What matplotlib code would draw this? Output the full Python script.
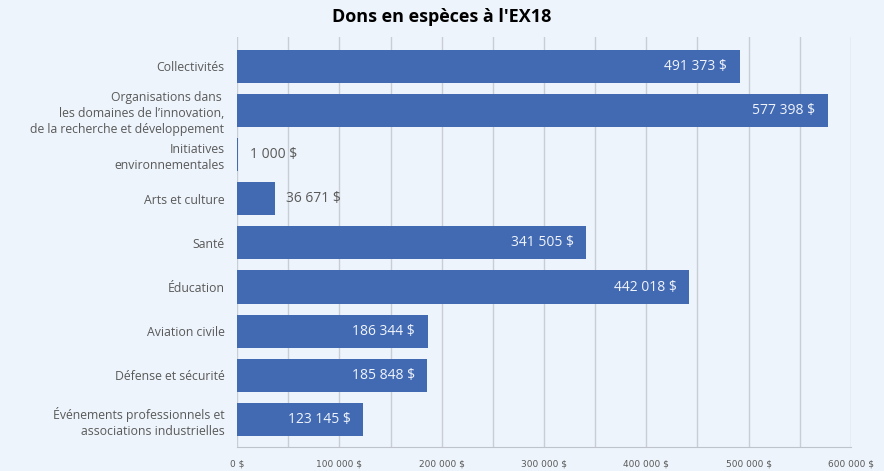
import numpy as np
import matplotlib.pyplot as plt
from matplotlib.ticker import MultipleLocator, FuncFormatter

categories = ['Collectivités',
              'Organisations dans \nles domaines de l\u2019innovation,\nde la recherche et développement',
              'Initiatives\nenvironnementales',
              'Arts et culture',
              'Santé',
              'Éducation',
              'Aviation civile',
              'Défense et sécurité',
              'Événements professionnels et\nassociations industrielles']
values = [491373, 577398, 1000, 36671, 341505, 442018, 186344, 185848, 123145]
title = "Dons en espèces à l'EX18"

bg = '#EDF4FB'
bar_color = '#426AB3'
text_gray = '#595959'


def money(v):
    return '{:,}'.format(int(v)).replace(',', ' ') + ' $'


fig = plt.figure(figsize=(8.84, 4.71), dpi=100, facecolor=bg)
ax = fig.add_axes([237 / 884, 1 - 447 / 471, (851 - 237) / 884, (447 - 37) / 471])
ax.set_facecolor(bg)

y = np.arange(len(categories))
ax.barh(y, values, height=0.75, color=bar_color, zorder=3)

ax.set_xlim(0, 600000)
ax.set_ylim(len(categories) - 0.38, -0.66)

ax.xaxis.set_major_locator(MultipleLocator(100000))
ax.xaxis.set_minor_locator(MultipleLocator(50000))
ax.xaxis.set_major_formatter(FuncFormatter(lambda v, p: money(v)))
ax.grid(axis='x', which='both', color='#C9CED6', linewidth=1.0, zorder=0)
ax.tick_params(axis='x', which='both', length=0, pad=9, labelsize=6.5, labelcolor=text_gray)
for lab in ax.get_xticklabels():
    lab.set_fontfamily('Liberation Sans Narrow')

ax.set_yticks(y)
ax.set_yticklabels(categories, fontsize=8.8, color=text_gray, family='Open Sans', linespacing=1.3)
ax.tick_params(axis='y', length=0, pad=9)

for s in ['top', 'right', 'left']:
    ax.spines[s].set_visible(False)
ax.spines['bottom'].set_color('#BFC4CC')

for yi, v in zip(y, values):
    if v > 100000:
        ax.annotate(money(v), (v, yi), xytext=(-9, 0), textcoords='offset points',
                    ha='right', va='center', color='#F0F4FA', fontsize=10, family='Open Sans')
    else:
        ax.annotate(money(v), (v, yi), xytext=(8.5, 0), textcoords='offset points',
                    ha='left', va='center', color=text_gray, fontsize=10, family='Open Sans')

fig.text(0.5, 1 - 17 / 471, title, ha='center', va='center', fontsize=13,
         fontweight='bold', family='Open Sans', color='black')

fig.savefig('out.png', dpi=100, facecolor=bg)
